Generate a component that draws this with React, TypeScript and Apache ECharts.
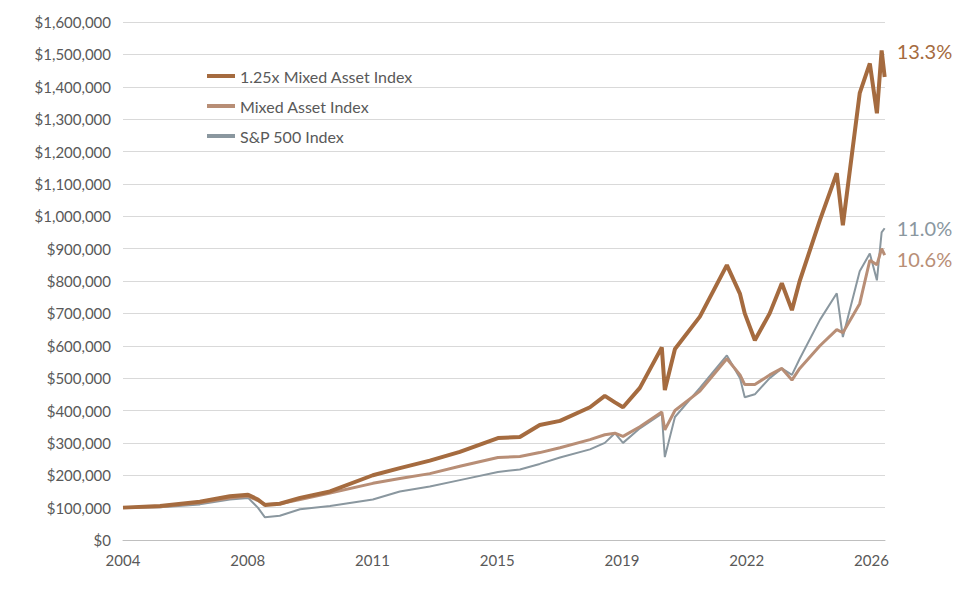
import * as echarts from "echarts"
import { useEffect, useRef } from "react"

const xTickLabels = ["2004", "2008", "2011", "2015", "2019", "2022", "2026"]

const dates = [
    2004.0, 2005.1, 2006.28, 2007.17, 2007.71, 2008.0, 2008.21, 2008.65, 2009.25, 2010.14,
    2011.41, 2012.21, 2013.1, 2013.99, 2015.12, 2015.77, 2016.36, 2016.96, 2017.85, 2018.29,
    2018.59, 2018.83, 2019.33, 2019.98, 2020.07, 2020.37, 2021.11, 2021.91, 2022.3, 2022.44,
    2022.74, 2023.18, 2023.54, 2023.84, 2024.07, 2024.67, 2025.17, 2025.35, 2025.85, 2026.15,
    2026.36, 2026.5, 2026.59,
]

// values in $ thousands
const levered = [
    100, 105, 118, 135, 140, 125, 108, 112, 130, 150,
    200, 222, 245, 272, 315, 318, 355, 368, 410, 445,
    425, 410, 470, 595, 463, 590, 690, 849, 760, 700,
    617, 700, 793, 710, 800, 988, 1133, 972, 1380, 1472,
    1318, 1512, 1430,
]
const mixed = [
    100, 103, 115, 130, 135, 122, 110, 112, 125, 145,
    175, 190, 205, 228, 255, 258, 270, 285, 310, 325,
    330, 320, 350, 395, 340, 400, 460, 560, 510, 480,
    480, 510, 530, 494, 530, 600, 650, 640, 730, 864,
    850, 900, 880,
]
const sp500 = [
    100, 101, 110, 125, 130, 100, 70, 75, 95, 105,
    125, 150, 165, 185, 210, 218, 235, 255, 280, 300,
    330, 300, 345, 390, 256, 380, 470, 570, 500, 441,
    450, 500, 530, 510, 560, 680, 762, 627, 830, 885,
    802, 950, 963,
]

const seriesNames = ["1.25x Mixed Asset Index", "Mixed Asset Index", "S&P 500 Index"]
const endLabels = ["13.3%", "10.6%", "11.0%"]

const FONT = "Lato, 'Noto Sans', sans-serif"

const App = () => {
    const ref = useRef<HTMLDivElement>(null)

    useEffect(() => {
        const chart = echarts.init(ref.current!, null, { renderer: "svg" })
        const pair = (vals: number[]) => dates.map((d, i) => [d, vals[i] * 1000])
        const mk = (i: number, vals: number[], color: string, width: number, offset: number[]) => ({
            name: seriesNames[i],
            type: "line",
            data: pair(vals),
            showSymbol: false,
            lineStyle: { color, width },
            itemStyle: { color },
            z: 3 - i,
            endLabel: {
                show: true,
                formatter: endLabels[i],
                color,
                fontSize: 20,
                fontFamily: FONT,
                offset,
            },
        })
        chart.setOption({
            animation: false,
            textStyle: { fontFamily: FONT },
            grid: { left: 115, right: 74, top: 14, bottom: 48 },
            legend: {
                orient: "vertical",
                left: 194,
                top: 55,
                itemGap: 14,
                itemWidth: 28,
                itemHeight: 4,
                icon: "rect",
                textStyle: { fontSize: 16, color: "#595959", fontFamily: FONT },
                data: seriesNames,
            },
            xAxis: {
                type: "value",
                min: 2004,
                max: 2026.6,
                interval: 3.7,
                splitLine: { show: false },
                axisTick: { show: false },
                axisLine: { lineStyle: { color: "#bfbfbf" } },
                axisLabel: {
                    color: "#595959",
                    fontSize: 15,
                    margin: 12,
                    showMaxLabel: false,
                    formatter: (v: number) => xTickLabels[Math.round((v - 2004) / 3.7)] ?? "",
                },
            },
            yAxis: {
                type: "value",
                min: 0,
                max: 1600000,
                interval: 100000,
                splitLine: { lineStyle: { color: "#d9d9d9" } },
                axisLine: { show: false },
                axisTick: { show: false },
                axisLabel: {
                    color: "#595959",
                    fontSize: 15,
                    margin: 12,
                    formatter: (v: number) => "$" + v.toLocaleString("en-US"),
                },
            },
            series: [
                mk(0, levered, "#A56B3F", 4, [4, -26]),
                mk(1, mixed, "#B88E76", 3, [4, 4]),
                mk(2, sp500, "#8A979F", 2, [4, 0]),
            ],
        })
        return () => chart.dispose()
    }, [])

    return <div ref={ref} style={{ width: 951, height: 580 }} />
}

export default App
